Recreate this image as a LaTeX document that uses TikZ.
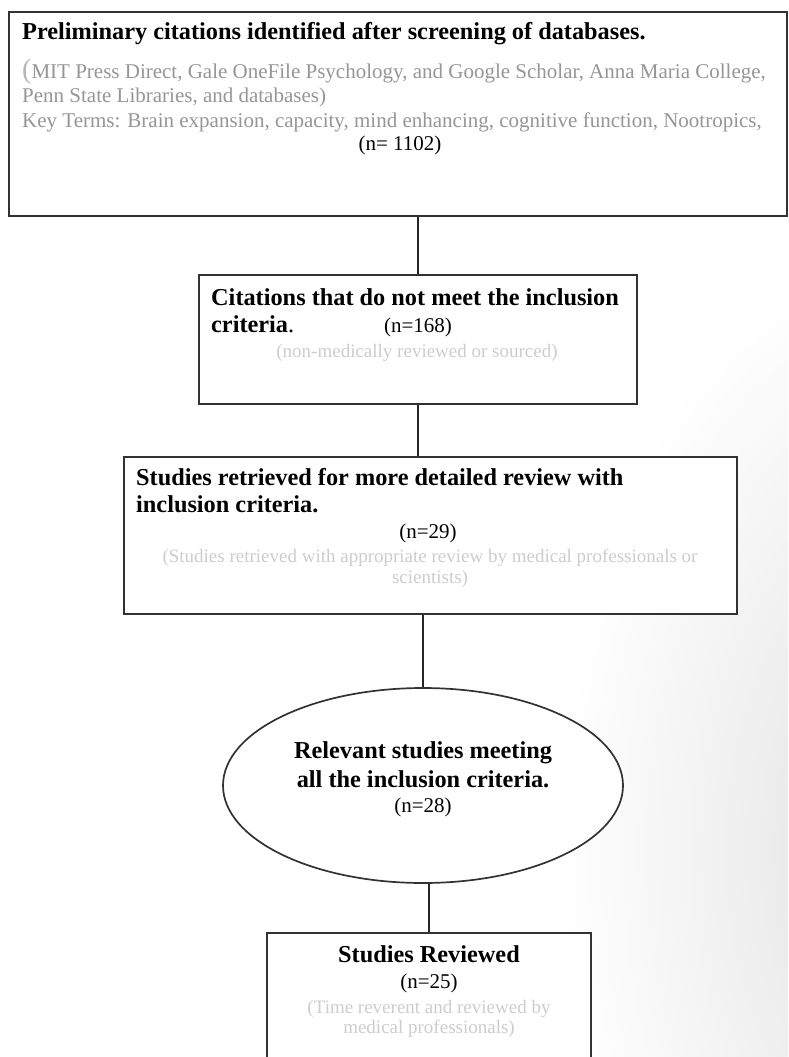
\documentclass[tikz,border=0pt]{standalone}
\usepackage{fontspec}
\setmainfont{Liberation Serif}
\usetikzlibrary{shapes.geometric}
\definecolor{FrameGray}{RGB}{50,50,50}
\definecolor{NoteGray}{RGB}{150,150,150}
\definecolor{PaleGray}{RGB}{205,205,205}
\definecolor{ShadowGray}{RGB}{225,225,225}

\begin{document}
\begin{tikzpicture}[x=1pt,y=-1pt,
    box/.style={draw=FrameGray,line width=1.7pt,fill=white,inner sep=0pt},
    link/.style={line width=1.4pt,black!85},
    head/.style={inner sep=0pt,font=\fontsize{24.3}{29}\selectfont\bfseries},
    note/.style={inner sep=0pt,anchor=base west,NoteGray,font=\fontsize{21}{25}\selectfont},
    count/.style={inner sep=0pt,anchor=base,font=\fontsize{21}{25}\selectfont},
    pale/.style={inner sep=0pt,anchor=base,PaleGray,font=\fontsize{19}{22}\selectfont}]
        \useasboundingbox (0,0) rectangle (788,1057);
        \clip (0,0) rectangle (788,1057);
        \shade[inner color=ShadowGray,outer color=white] (560,250) rectangle (1240,1450);
        % boxes
        \node[box,line width=2pt,minimum width=778,minimum height=204] (search) at (398,114) {};
        \node[box,minimum width=438,minimum height=129] (excluded) at (418,339.5) {};
        \node[box,minimum width=613,minimum height=157] (retrieved) at (430.5,535.5) {};
        \node[box,ellipse,minimum width=400,minimum height=195] (relevant) at (423,785.5) {};
        \node[box,minimum width=324,minimum height=147] (reviewed) at (429,1006.5) {};
        % connectors
        \draw[link] (search.south -| excluded.north) -- (excluded.north);
        \draw[link] (excluded.south) -- (excluded.south |- retrieved.north);
        \draw[link] (retrieved.south -| relevant.north) -- (relevant.north);
        \draw[link] (relevant.south -| reviewed.north) -- (reviewed.north);
        % first box
        \node[head,anchor=base west] (searchtitle) at (22,40) {Preliminary citations identified after screening of databases.};
        \node[note] (dbs) at (22,78) {{\fontsize{28}{28}\selectfont\color{NoteGray!70}(}MIT Press Direct, Gale OneFile Psychology, and Google Scholar, Anna Maria College,};
        \node[note] (dbsend) at (22,102) {Penn State Libraries, and databases)};
        \node[note] (terms) at (22,127) {Key Terms: Brain expansion, capacity, mind enhancing, cognitive function, Nootropics,};
        \node[count] (nsearch) at (400,150) {(n= 1102)};
        % second box
        \node[head,anchor=base west] (extitle) at (211,305) {Citations that do not meet the inclusion};
        \node[head,anchor=base west] (extitleb) at (211,332) {criteria\textmd{.}};
        \node[count] (nex) at (418,332) {(n=168)};
        \node[pale] (exnote) at (417,357) {(non-medically reviewed or sourced)};
        % third box
        \node[head,anchor=base west] (retitle) at (136,485) {Studies retrieved for more detailed review with};
        \node[head,anchor=base west] (retitleb) at (136,512) {inclusion criteria.};
        \node[count] (nre) at (428,538) {(n=29)};
        \node[pale] (renote) at (430,562) {(Studies retrieved with appropriate review by medical professionals or};
        \node[pale] (renoteb) at (430,583) {scientists)};
        % ellipse
        \node[head,anchor=base] (reltitle) at (423,758) {Relevant studies meeting};
        \node[head,anchor=base] (reltitleb) at (423,787) {all the inclusion criteria.};
        \node[count] (nrel) at (423,812) {(n=28)};
        % last box
        \node[head,anchor=base] (revtitle) at (429,962) {Studies Reviewed};
        \node[count] (nrev) at (429,988) {(n=25)};
        \node[pale] (revnote) at (429,1013) {(Time reverent and reviewed by};
        \node[pale] (revnoteb) at (429,1033) {medical professionals)};
      \end{tikzpicture}
\end{document}
